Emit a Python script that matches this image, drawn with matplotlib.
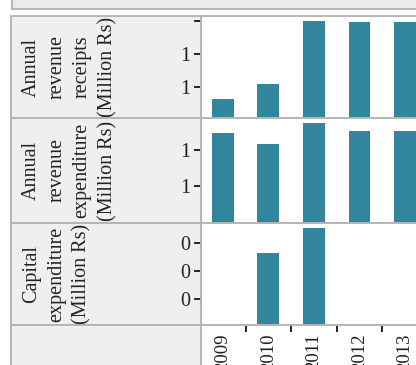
import numpy as np
import matplotlib.pyplot as plt
from matplotlib.ticker import FixedLocator

years = ['2009', '2010', '2011', '2012', '2013']
receipts = [0.93, 1.02, 1.40, 1.394, 1.394]
expenditure = [1.297, 1.234, 1.354, 1.309, 1.309]
capital = [0.0, 0.264, 0.354, 0.0, 0.0]

strip_labels = ['Annual\nrevenue\nreceipts\n(Million Rs)',
                'Annual\nrevenue\nexpenditure\n(Million Rs)',
                'Capital\nexpenditure\n(Million Rs)']
ytick_vals = [[1.0, 1.2, 1.4], [1.0, 1.2], [0.1, 0.2, 0.3]]
ytick_labels = [['1', '1', ''], ['1', '1'], ['0', '0', '0']]

W, H = 416, 365
bar_color = '#31859c'
edge = '#b5b5b5'
strip_bg = '#efefef'
plt.rcParams['font.family'] = ['Liberation Serif', 'DejaVu Serif']

fig = plt.figure(figsize=(W / 100, H / 100), dpi=100)


def px_axes(x0, y0, x1, y1, **kw):
    # pixel box (top-left origin) -> figure axes
    return fig.add_axes([x0 / W, 1 - y1 / H, (x1 - x0) / W, (y1 - y0) / H], **kw)


def plain(ax, bg):
    ax.set_facecolor(bg)
    ax.set_xticks([])
    ax.set_yticks([])
    for s in ax.spines.values():
        s.set_color(edge)
        s.set_linewidth(1.4)


# top strip (cut off)
top = px_axes(12, -10, 430, 9)
plain(top, '#ebebee')

rows = [(16, 118), (118, 223), (223, 325)]
ylims = [(0.812, 1.43), (0.789, 1.383), (0.007, 0.372)]
series = [receipts, expenditure, capital]
x = np.arange(len(years))

for i, (y0, y1) in enumerate(rows):
    st = px_axes(11, y0, 201, y1)
    plain(st, strip_bg)
    st.text(11 / 190, 0.5, strip_labels[i], transform=st.transAxes, rotation=90,
            ha='left', va='center', multialignment='center', fontsize=14.5,
            linespacing=1.45, color='#222222')

    ax = px_axes(201, y0, 430, y1)
    ax.bar(x, series[i], width=0.48, color=bar_color)
    ax.set_xlim(-0.48, 4.55)
    ax.set_ylim(*ylims[i])
    for s in ax.spines.values():
        s.set_color(edge)
        s.set_linewidth(1.4)
    ax.set_yticks(ytick_vals[i])
    ax.set_yticklabels(ytick_labels[i])
    ax.tick_params(axis='y', length=5, width=1.2, color='black', pad=3,
                   labelsize=14.5, labelcolor='#222222')
    if i < 2:
        ax.set_xticks([])
    else:
        ax.set_xticks(x)
        ax.set_xticklabels(years, rotation=90, va='top')
        ax.tick_params(axis='x', which='major', length=0, pad=6,
                       labelsize=13.5, labelcolor='#222222')
        ax.xaxis.set_minor_locator(FixedLocator(x[:-1] + 0.5))
        ax.tick_params(axis='x', which='minor', length=5, width=1.2, color='black')

# bottom-left strip
bl = px_axes(11, 325, 201, 380)
plain(bl, strip_bg)

fig.savefig('out.png', dpi=100)
